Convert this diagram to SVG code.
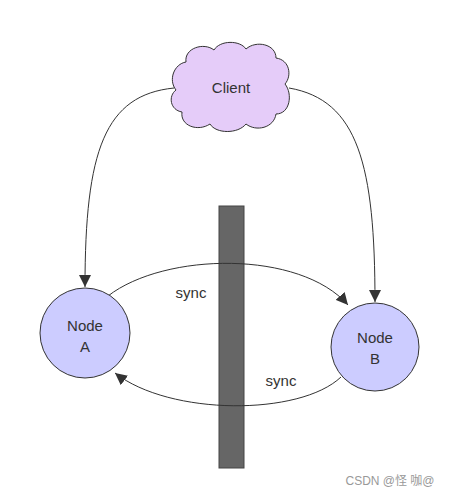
<svg xmlns="http://www.w3.org/2000/svg" width="456" height="498" viewBox="0 0 456 498">
<style>
.lbl{font-family:"Liberation Sans",Arial,sans-serif;font-size:15px;fill:#333;text-anchor:middle}
.node{fill:#ccccff;stroke:#333;stroke-width:1}
.edge{fill:none;stroke:#333;stroke-width:1}
</style>
<defs>
<marker id="arr" viewBox="0 0 12 12" refX="12" refY="6" markerWidth="12" markerHeight="12" markerUnits="userSpaceOnUse" orient="auto">
<path d="M0,0 L12,6 L0,12 z" fill="#333"/>
</marker>
</defs>
<rect width="456" height="498" fill="#fff"/>
<g id="barrier">
<rect x="219" y="206" width="25" height="262" fill="#666" stroke="#444"/>
</g>
<g id="connectors">
<path class="edge" d="M174 88 C105 95 85 150 85 287" marker-end="url(#arr)"/>
<path class="edge" d="M289 88 C358 100 375 165 375 302" marker-end="url(#arr)"/>
<path class="edge" d="M108 296 C165 252 300 250 348 305" marker-end="url(#arr)"/>
<path class="edge" d="M341 377 C300 416 170 416 115 373" marker-end="url(#arr)"/>
<text class="lbl" x="191" y="298">sync</text>
<text class="lbl" x="281" y="386">sync</text>
</g>
<g id="client">
<path d="M186 62 C184 48 204 42 214 50 C220 40 240 40 246 49 C256 40 276 44 276 58 C290 60 292 76 285 84 C293 94 290 114 276 114 C274 128 256 132 246 124 C238 134 216 134 210 124 C198 132 180 126 182 112 C170 110 168 96 176 90 C168 80 174 64 186 62 Z" fill="#e5ccf9" stroke="#333" stroke-width="1"/>
<text class="lbl" x="231" y="93">Client</text>
</g>
<g id="nodeA">
<circle class="node" cx="85" cy="333" r="45"/>
<text class="lbl" x="85" y="331">Node</text>
<text class="lbl" x="85" y="352">A</text>
</g>
<g id="nodeB">
<circle class="node" cx="375" cy="347" r="44"/>
<text class="lbl" x="375" y="343">Node</text>
<text class="lbl" x="375" y="364">B</text>
</g>
<text x="390" y="485" style="font-family:'Liberation Sans','Noto Sans CJK SC',sans-serif;font-size:12px;fill:#999;text-anchor:middle">CSDN @怪 咖@</text>
</svg>
